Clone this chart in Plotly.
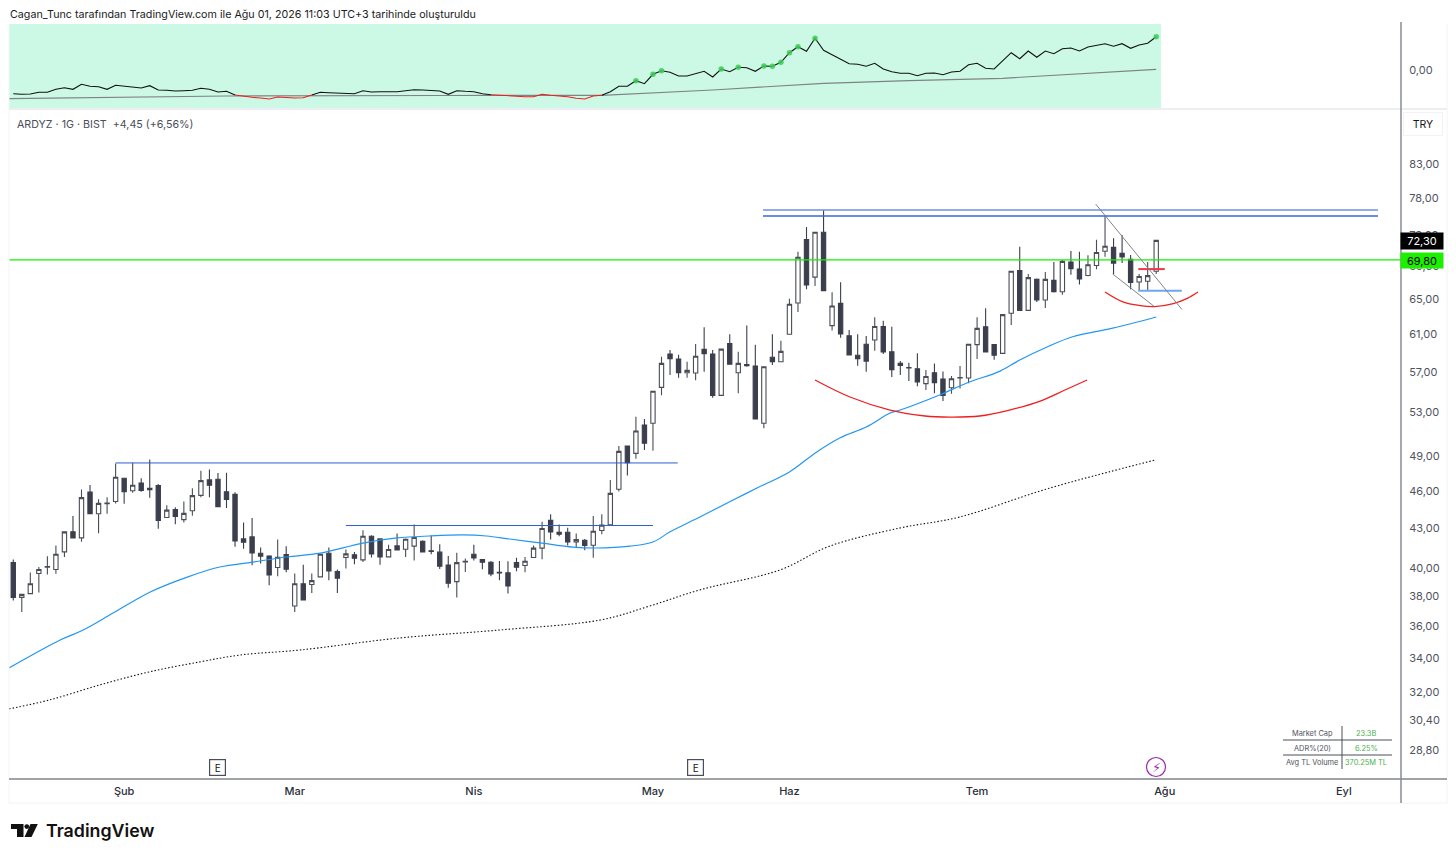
import math
import plotly.graph_objects as go

W, H = 1456, 857

month_ticks = [13, 33, 54, 75, 91, 113, 135, 156]
month_labels = ["Şub", "Mar", "Nis", "May", "Haz", "Tem", "Ağu", "Eyl"]
price_ticks = [83, 78, 73, 69, 65, 61, 57, 53, 49, 46, 43, 40, 38, 36, 34, 32, 30.4, 28.8]
price_labels = ["83,00", "78,00", "73,00", "69,00", "65,00", "61,00", "57,00", "53,00", "49,00", "46,00",
                "43,00", "40,00", "38,00", "36,00", "34,00", "32,00", "30,40", "28,80"]

opens = [40.40,37.94,38.2,39.61,40.07,39.9,41.19,42.71,42.25,45.9,44.13,44.94,45.12,47.05,46.0,46.65,46.2,46.43,43.83,44.47,
 43.66,44.37,45.62,46.91,46.97,45.92,45.7,42.17,42.32,41.09,40.89,40.04,40.99,37.36,38.89,38.83,39.37,41.09,39.76,40.77,
 40.97,40.6,42.37,42.17,40.82,41.64,41.39,41.62,41.99,41.27,41.17,40.22,39.04,40.45,41.02,40.62,40.43,39.70,39.66,40.4,
 40.19,40.77,41.47,43.6,42.68,42.68,41.94,42.07,41.69,42.81,43.25,46.12,49.87,49.21,51.8,51.96,55.44,58.89,58.36,56.93,
 56.9,59.38,58.89,54.65,60.0,56.93,57.79,57.62,51.96,58.55,58.07,61.02,64.57,72.4,67.66,73.37,61.99,64.53,60.87,58.75,
 59.93,60.4,61.89,59.13,57.9,57.47,57.34,55.82,56.93,56.28,55.41,56.40,56.39,59.9,61.85,59.9,58.96,63.38,68.46,63.72,
 67.39,64.92,67.27,65.9,69.53,68.65,67.86,69.09,70.89,71.4,70.63,69.88,67.07,67.15,68.38]
highs = [40.62,38.15,39.68,40.09,40.87,41.67,42.71,43.94,46.1,46.48,45.29,45.46,48.33,47.05,48.39,47.05,48.68,46.57,44.82,44.64,
 45.12,46.2,47.7,47.8,47.5,47.53,45.87,43.43,43.8,41.52,40.94,42.12,41.62,39.61,40.25,39.61,41.02,41.52,39.9,41.37,
 41.19,42.84,42.45,42.2,41.72,42.58,42.2,43.27,42.07,42.42,41.77,40.89,41.12,40.7,41.72,40.62,40.52,40.52,40.5,40.75,
 40.82,41.67,43.5,44.08,43.27,43.02,42.58,42.17,43.94,44.08,46.91,49.87,49.87,52.58,52.36,55.05,58.6,59.31,58.82,58.07,
 59.96,61.8,59.31,59.41,61.02,59.13,62.0,59.88,57.55,61.02,60.32,65.07,70.85,74.07,73.37,76.37,65.84,67.04,61.5,61.02,
 60.83,62.93,62.53,61.85,58.14,57.97,58.96,57.2,57.9,57.06,56.59,57.62,59.93,62.93,63.97,59.97,63.23,68.38,71.49,68.03,
 67.5,68.29,69.53,69.78,70.94,70.85,70.38,72.4,75.65,72.58,73.0,70.42,68.03,69.53,72.35]
lows = [37.73,36.96,38.2,38.27,39.54,39.59,40.82,42.25,41.95,44.13,42.6,44.13,44.96,44.93,45.83,45.92,45.43,42.95,43.83,43.3,
 43.43,43.96,45.46,45.46,44.69,44.58,41.57,41.42,40.2,40.33,38.78,39.42,39.7,36.96,37.77,38.25,39.37,39.13,38.25,39.97,
 40.29,40.45,40.77,40.25,40.82,41.34,40.82,40.55,41.19,41.02,39.94,38.6,37.94,39.73,40.55,39.92,39.42,39.13,38.2,39.78,
 39.7,40.77,40.65,42.12,42.37,41.67,41.54,41.32,40.75,42.53,43.25,45.93,47.29,48.74,49.51,49.45,54.65,56.69,56.42,56.42,
 56.15,57.03,54.42,54.65,57.82,54.85,57.55,52.36,51.49,57.72,58.07,61.02,63.53,66.19,66.59,66.03,61.43,60.65,58.78,57.65,
 57.03,59.24,58.89,56.49,56.69,56.09,55.55,55.17,54.85,54.1,54.82,55.34,55.85,58.36,59.1,58.28,58.96,62.05,63.72,63.72,
 64.68,63.99,65.8,65.54,67.95,66.76,67.78,68.63,70.21,68.03,69.4,66.19,66.03,66.03,68.05]
closes = [37.94,38.15,38.89,39.9,40.11,41.02,42.71,42.25,45.43,44.13,44.96,44.98,47.13,45.92,46.46,46.03,46.09,43.6,44.42,43.92,
 44.16,45.6,46.85,46.46,44.69,45.29,42.02,41.92,41.12,40.87,39.51,40.79,39.92,38.89,37.77,39.11,41.02,39.8,39.28,41.04,
 40.72,42.37,41.04,40.82,41.37,41.34,42.14,42.27,41.19,41.22,40.14,38.93,40.4,40.49,40.75,40.43,39.59,39.66,38.73,40.07,
 40.5,41.47,42.97,42.71,42.53,41.94,42.12,41.67,42.76,43.23,45.78,49.39,48.39,51.24,50.13,55.05,57.9,58.4,56.93,57.17,
 58.65,58.92,54.65,59.41,57.82,57.9,57.65,52.36,57.55,58.07,59.17,64.43,70.13,66.71,73.37,66.03,64.22,61.05,58.78,58.4,
 58.14,61.89,59.1,57.24,57.69,57.43,55.98,56.55,55.92,54.65,56.31,56.44,59.93,61.68,59.1,58.75,63.23,68.38,63.72,67.6,
 64.92,67.39,65.9,69.61,68.69,67.43,69.2,70.73,71.55,69.4,70.17,67.0,67.74,67.85,72.3]
bars = list(range(len(closes)))

ema50_bars = [-0.5,5.5,8.2,11.7,16,20.4,24.2,28.1,32,36,41,45,48.8,52.7,55.5,58.2,62,65.6,68.4,72.3,75,77,80.5,84.4,87.2,91,94.2,96.9,100,102.8,103.9,108.6,111.8,115.7,118,121.2,124.2,128.9,134]
ema50_vals = [33.40,35.13,35.77,36.88,38.3,39.36,40.08,40.44,40.81,41.1,41.85,42.24,42.39,42.47,42.39,42.16,41.85,41.55,41.48,41.62,41.93,42.71,43.87,45.24,46.23,47.59,49.34,50.6,51.61,52.93,53.2,54.69,55.89,57.1,58.25,59.64,60.75,61.7,62.96]
ema200_bars = [-0.5,4.3,10.2,16,21.9,26.6,33.6,45.3,57,68.8,74.6,80.5,89.9,95.7,103.9,110.9,121.5,133.9]
ema200_vals = [31.02,31.53,32.4,33.17,33.77,34.19,34.5,35.26,35.77,36.42,37.35,38.46,39.87,41.62,43.0,43.86,46.22,48.63]

level_green = 69.80
levels = [  # bar start, bar end, price, colour, width
    (12, 77.9, 48.37, "#2f5fcf", 1),
    (39, 75, 43.2, "#2f5fcf", 1),
    (87.9, 160, 76.38, "#6f8fe8", 1.6),
    (87.9, 160, 75.55, "#3a66d8", 1.4),
    (131.9, 135, 68.65, "#f23645", 2),
    (131.9, 137, 66.02, "#6ea6f5", 2),
]
arc1_bars = [94,98.1,102.8,106.9,109.8,113.3,116.8,120.4,123.3,125.9]
arc1_vals = [56.19,54.49,53.22,52.65,52.55,52.65,53.22,54.09,55.18,56.19]
arc2_bars = [128,130.1,132.1,133.8,136,137.7,138.9]
arc2_vals = [65.87,64.7,64.27,64.15,64.5,65.15,65.87]
trend1_bars = [126.9,137]
trend1_vals = [77.21,63.84]
trend2_bars = [128.9,133.8]
trend2_vals = [68.04,64.15]

rs_vals = [-23.7,-24.3,-24,-22.3,-22.3,-19.3,-17.7,-19.3,-14.3,-16.3,-16.7,-19.3,-15.3,-16,-16.7,-18,-15.7,-20,-20.3,-21,
 -20.7,-20.3,-18.3,-19.3,-22,-21.3,-25,-26.3,-27.3,-28,-29,-27,-27.7,-28,-27.7,-25,-22.3,-22.7,-23,-22.7,
 -23.7,-20.7,-22,-21.7,-22,-21.7,-20.7,-19.7,-20,-20.7,-21,-24.3,-20.7,-21.3,-21.7,-23.7,-24.7,-25.3,-26,-26.7,
 -26.7,-26.7,-24.3,-25.3,-25.7,-26.7,-28.3,-29,-26,-25.3,-21.7,-16.3,-16.3,-10.7,-13.7,-4.3,-0.7,-2.3,-6,-6,
 -3.3,-1.3,-7,1,-1.7,2.7,2.3,-1.3,4,3.7,7.7,17.3,23.3,18.7,31.7,19.7,15.3,11,6.3,5.7,
 3.7,6.7,1,-1.7,-3.3,-3.3,-5.7,-3.3,-3,-4.7,-2,-1.3,5.3,6.7,1.7,1,9,17.3,11.3,19,
 12.7,19,16.3,21.3,22,19,23,24.3,26.3,23.7,26.3,21.7,25,26.7,33.3]
rs_red_ranges = [(26, 35), (56, 69)]
rs_high_bars = [73,75,76,83,85,88,89,90,91,92,94,134]
rs_ma_bars = [-0.5,25,50,69,82,95,105,116,134]
rs_ma_vals = [-28.7,-26,-25.5,-25.3,-20,-13.3,-10.7,-8.3,0.7]

stat_names = ["Market Cap", "ADR%(20)", "Avg TL Volume"]
stat_values = ["23.3B", "6.25%", "370.25M TL"]
earnings_bars = [24, 80]

FONT = "Inter, Roboto, sans-serif"
def fx(p): return p / W
def fy(p): return 1 - p / H

fig = go.Figure()
fig.add_trace(go.Candlestick(x=bars, open=opens, high=highs, low=lows, close=closes,
    increasing=dict(fillcolor="#ffffff", line=dict(color="#4a4d57", width=1.1)),
    decreasing=dict(fillcolor="#3b3e4d", line=dict(color="#3b3e4d", width=1.1)),
    whiskerwidth=0, showlegend=False, hoverinfo="skip"))

def line(xs, ys, color, width=1, dash="solid", shape="linear", **kw):
    fig.add_trace(go.Scatter(x=xs, y=ys, mode="lines",
        line=dict(color=color, width=width, dash=dash, shape=shape),
        showlegend=False, hoverinfo="skip", **kw))

line([-0.5, 162.7], [level_green, level_green], "#12f000", 1.3)
line(ema50_bars, ema50_vals, "#2196f3", 1.2, shape="spline")
line(ema200_bars, ema200_vals, "#111111", 1.1, dash="1.5px,2px", shape="spline")
for x0, x1, p, c, w in levels:
    line([x0, x1], [p, p], c, w)
line(arc1_bars, arc1_vals, "#f01e1e", 1.3, shape="spline")
line(arc2_bars, arc2_vals, "#f01e1e", 1.3, shape="spline")
line(trend1_bars, trend1_vals, "#80838c", 1)
line(trend2_bars, trend2_vals, "#80838c", 1)

# top panel
def in_red(i):
    return any(a <= i <= b for a, b in rs_red_ranges)
rs_black = [None if (any(a < i < b for a, b in rs_red_ranges)) else v for i, v in enumerate(rs_vals)]
rs_red = [v if in_red(i) else None for i, v in enumerate(rs_vals)]
line(rs_ma_bars, rs_ma_vals, "#808285", 1.2, xaxis="x2", yaxis="y2")
line(bars, rs_black, "#111111", 1.1, xaxis="x2", yaxis="y2")
line(bars, rs_red, "#f01e1e", 1.1, xaxis="x2", yaxis="y2")
fig.add_trace(go.Scatter(x=rs_high_bars, y=[rs_vals[i] for i in rs_high_bars], mode="markers",
    marker=dict(color="rgba(60,205,85,0.85)", size=5.5), xaxis="x2", yaxis="y2",
    showlegend=False, hoverinfo="skip"))

shapes = []
def pline(x0, y0, x1, y1, color, width=1):
    shapes.append(dict(type="line", xref="paper", yref="paper", x0=fx(x0), x1=fx(x1), y0=fy(y0), y1=fy(y1),
                       line=dict(color=color, width=width)))
shapes.append(dict(type="rect", xref="paper", yref="paper", x0=fx(9), x1=fx(1161), y0=fy(108), y1=fy(24),
                   fillcolor="#ccf9e5", line=dict(width=0), layer="below"))
pline(9, 24, 9, 803, "#f3f4f8")
pline(1447, 24, 1447, 803, "#f3f4f8")
pline(9, 803, 1447, 803, "#f0f2f6")
pline(9, 109, 1447, 109, "#e6e8ee", 1.5)
pline(9, 779, 1447, 779, "#82858f", 1.4)
pline(1401, 22, 1401, 803, "#82858f", 1.4)
pline(1283, 740, 1392, 740, "#4a4e59", 1)
pline(1283, 755, 1392, 755, "#4a4e59", 1)
pline(1342, 726, 1342, 769, "#4a4e59", 1)
shapes.append(dict(type="circle", xref="paper", yref="paper", x0=fx(1146.5), x1=fx(1165.5), y0=fy(776.5), y1=fy(757.5),
                   line=dict(color="#9c27b0", width=1.2), fillcolor="#ffffff"))
def path(d, fill):
    out = ""
    for cmd, x, y in d:
        out += f"{cmd}{fx(x)},{fy(y)} "
    shapes.append(dict(type="path", xref="paper", yref="paper", path=out + "Z", fillcolor=fill, line=dict(width=0)))
path([("M",11,824),("L",23.5,824),("L",23.5,837),("L",17,837),("L",17,829),("L",11,829)], "#111111")
path([("M",30.5,824),("L",37.8,824),("L",31.5,837),("L",24.5,837)], "#111111")
shapes.append(dict(type="circle", xref="paper", yref="paper", x0=fx(24.4), x1=fx(29.2), y0=fy(829), y1=fy(824.2),
                   fillcolor="#111111", line=dict(width=0)))

ann = []
def text(x, y, s, size=11, color="#131722", anchor="left", **kw):
    ann.append(dict(xref="paper", yref="paper", x=fx(x), y=fy(y), text=s, showarrow=False, xanchor=anchor,
                    yanchor="middle", font=dict(family=kw.pop("family", FONT), size=size, color=color, weight=kw.pop("weight", 400)),
                    borderpad=0, **kw))
text(9, 14.7, "Cagan_Tunc tarafından TradingView.com ile Ağu 01, 2026 11:03 UTC+3 tarihinde oluşturuldu", 10.73, "#1a1c22")
text(16, 124.5, "ARDYZ · 1G · BIST  +4,45 (+6,56%)", 10.7, "#4a4e59")
text(1423, 124.5, "TRY", 10.5, "#131722", "center", width=38, height=22, bordercolor="#f0f2f6", borderwidth=1, bgcolor="#ffffff")
text(1422, 241, "72,30", 11, "#ffffff", "center", width=42, height=16, bgcolor="#000000")
text(1422, 260.5, "69,80", 11, "#000000", "center", width=42, height=15, bgcolor="#1cf000")
for b in earnings_bars:
    ann.append(dict(xref="x", yref="paper", x=b, y=fy(767), text="E", showarrow=False, xanchor="center", yanchor="middle",
                    font=dict(family=FONT, size=10, color="#131722"), bordercolor="#4a4e59", borderwidth=1.2,
                    width=15, height=15, bgcolor="#ffffff", borderpad=0))
text(1156, 767, "⚡", 13, "#9c27b0", "center", family="DejaVu Sans")
for n, v, y in zip(stat_names, stat_values, [733, 748, 762]):
    text(1312, y, n, 7.4, "#50535e", "center")
    text(1366, y, v, 7.4, "#4caf50", "center")
text(45, 830.5, "TradingView", 17.8, "#111111", weight=600)

fig.update_layout(
    width=W, height=H, margin=dict(l=0, r=0, t=0, b=0), autosize=False,
    paper_bgcolor="#ffffff", plot_bgcolor="rgba(0,0,0,0)", showlegend=False, boxgap=0.28,
    font=dict(family=FONT),
    xaxis=dict(domain=[fx(9), fx(1401)], range=[-0.5, 162.7], tickmode="array", tickvals=month_ticks, ticktext=month_labels,
               showgrid=False, zeroline=False, rangeslider=dict(visible=False), ticks="outside", ticklen=2, tickcolor="rgba(0,0,0,0)",
               tickfont=dict(family=FONT, size=11, color="#2a2e39", weight=500), anchor="y"),
    yaxis=dict(domain=[fy(779), fy(109)], type="log", range=[math.log10(27.33), math.log10(91.67)], side="right",
               tickmode="array", tickvals=price_ticks, ticktext=price_labels, showgrid=False, zeroline=False,
               ticks="outside", ticklen=5, tickcolor="rgba(0,0,0,0)", tickfont=dict(family=FONT, size=11, color="#50535e"), anchor="x"),
    xaxis2=dict(domain=[fx(9), fx(1401)], range=[-0.5, 162.7], visible=False, anchor="y2"),
    yaxis2=dict(domain=[fy(108), fy(24)], range=[-38, 46], side="right", tickmode="array", tickvals=[0], ticktext=["0,00"],
                showgrid=False, zeroline=False, ticks="outside", ticklen=5, tickcolor="rgba(0,0,0,0)",
                tickfont=dict(family=FONT, size=11, color="#50535e"), anchor="x2"),
    shapes=shapes, annotations=ann,
)
fig.write_html("out.html", post_script="document.body.style.margin='0';", config={"displayModeBar": False})
